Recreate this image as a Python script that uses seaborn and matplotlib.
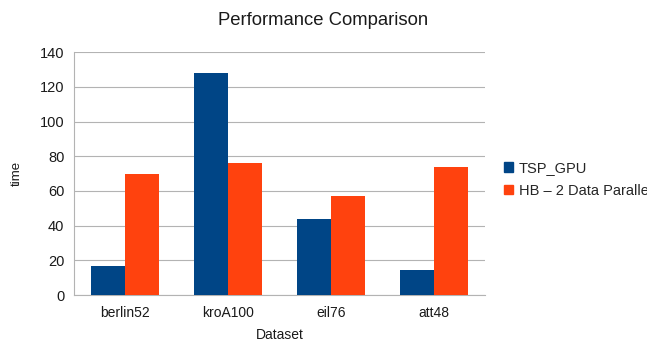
import numpy as np
import pandas as pd
import matplotlib
matplotlib.use("Agg")
import matplotlib.pyplot as plt
import seaborn as sns

datasets = ["berlin52", "kroA100", "eil76", "att48"]
series = ["TSP_GPU", "HB \u2013 2 Data Parallel"]
tsp_gpu = [16.5, 128, 44, 14.5]
hb_parallel = [69.5, 76, 57, 74]
y_ticks = [0, 20, 40, 60, 80, 100, 120, 140]

df = pd.DataFrame({
    "Dataset": datasets * 2,
    "time": tsp_gpu + hb_parallel,
    "series": [series[0]] * len(datasets) + [series[1]] * len(datasets),
})

sns.set_style("white")
plt.rcParams["font.family"] = ["Liberation Sans", "DejaVu Sans"]

fig = plt.figure(figsize=(6.47, 3.5), dpi=100)
ax = fig.add_axes([0.1144, 0.157, 0.6352, 0.694])

palette = {series[0]: "#004586", series[1]: "#ff420e"}
sns.barplot(data=df, x="Dataset", y="time", hue="series", palette=palette,
            width=0.66, saturation=1, linewidth=0, ax=ax, legend=False, zorder=3)

ax.set_xlim(-0.5, len(datasets) - 0.5)
ax.set_ylim(0, 140)
ax.set_yticks(y_ticks)
ax.grid(axis="y", color="#b3b3b3", linewidth=0.8, zorder=0)

# category boundaries get the tick marks, labels sit in the middle
ax.set_xticks(np.arange(len(datasets)))
ax.set_xticks(np.arange(len(datasets) + 1) - 0.5, minor=True)
ax.tick_params(axis="x", which="major", length=0, pad=8, labelsize=10, colors="#1a1a1a")
ax.tick_params(axis="x", which="minor", length=5, width=0.8, color="#b3b3b3", direction="out")
ax.tick_params(axis="y", length=5, width=0.8, color="#b3b3b3", direction="out",
               labelsize=10.5, labelcolor="#1a1a1a", pad=2)

for s in ["top", "right"]:
    ax.spines[s].set_visible(False)
for s in ["left", "bottom"]:
    ax.spines[s].set_color("#b3b3b3")
    ax.spines[s].set_linewidth(0.8)

ax.set_xlabel("Dataset", fontsize=10, color="#1a1a1a", labelpad=6)
ax.set_ylabel("time", fontsize=9.5, color="#1a1a1a", labelpad=12)
fig.suptitle("Performance Comparison", x=0.5, y=0.965, fontsize=13.3, color="#1a1a1a")

# legend runs past the right edge, as in the original
handles = [plt.Rectangle((0, 0), 1, 1, color=palette[s]) for s in series]
fig.legend(handles, series, loc="center left", bbox_to_anchor=(0.77, 0.487),
           frameon=False, fontsize=10.5, handlelength=0.6, handleheight=0.6,
           handletextpad=0.4, labelspacing=0.6, borderaxespad=0)

fig.savefig("out.png", dpi=100)
